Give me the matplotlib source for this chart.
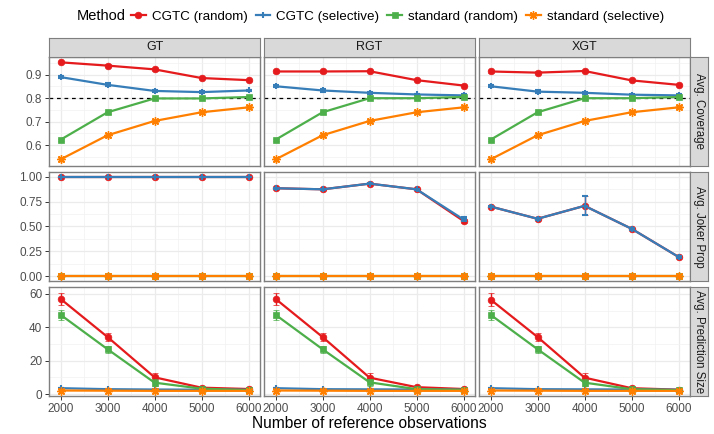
import numpy as np
import matplotlib.pyplot as plt
from matplotlib.lines import Line2D
from matplotlib.ticker import MultipleLocator

plt.rcParams['font.family'] = ['Liberation Sans', 'DejaVu Sans']

# data
n_ref = [2000, 3000, 4000, 5000, 6000]
methods = ['CGTC (random)', 'CGTC (selective)', 'standard (random)', 'standard (selective)']
designs = ['GT', 'RGT', 'XGT']
metrics = ['Avg. Coverage', 'Avg. Joker Prop', 'Avg. Prediction Size']

cov_gt = [[0.953, 0.939, 0.923, 0.886, 0.877],
          [0.890, 0.857, 0.831, 0.826, 0.833],
          [0.623, 0.740, 0.799, 0.799, 0.805],
          [0.539, 0.642, 0.703, 0.740, 0.761]]
cov_rgt = [[0.914, 0.914, 0.915, 0.877, 0.854],
           [0.851, 0.833, 0.823, 0.816, 0.812],
           [0.623, 0.740, 0.800, 0.800, 0.805],
           [0.539, 0.642, 0.703, 0.740, 0.761]]
cov_xgt = [[0.914, 0.909, 0.916, 0.876, 0.857],
           [0.851, 0.828, 0.823, 0.815, 0.812],
           [0.623, 0.740, 0.800, 0.800, 0.805],
           [0.539, 0.642, 0.703, 0.740, 0.761]]
cov_se = [0.005, 0.006, 0.005, 0.004, 0.004]

joker_gt = [[1, 1, 1, 1, 1], [1, 1, 1, 1, 1], [0, 0, 0, 0, 0], [0, 0, 0, 0, 0]]
joker_rgt = [[0.884, 0.873, 0.930, 0.873, 0.555],
             [0.884, 0.873, 0.930, 0.873, 0.570],
             [0, 0, 0, 0, 0], [0, 0, 0, 0, 0]]
joker_xgt = [[0.700, 0.577, 0.707, 0.477, 0.194],
             [0.700, 0.577, 0.707, 0.477, 0.194],
             [0, 0, 0, 0, 0], [0, 0, 0, 0, 0]]
joker_se_gt = [0, 0, 0, 0, 0]
joker_se_rgt = [0.006, 0.006, 0.008, 0.006, 0.02]
joker_se_xgt = [0.008, 0.008, 0.095, 0.008, 0.012]

size_gt = [[57.0, 34.2, 10.1, 3.9, 3.1],
           [3.6, 3.0, 2.8, 2.7, 2.7],
           [47.5, 26.9, 6.9, 3.3, 2.4],
           [2.2, 2.1, 2.0, 2.0, 2.0]]
size_rgt = [[57.0, 34.2, 9.9, 4.2, 3.1],
            [3.6, 3.0, 2.9, 2.8, 2.7],
            [47.5, 26.9, 7.1, 3.0, 2.6],
            [2.2, 2.1, 2.0, 2.0, 2.0]]
size_xgt = [[56.6, 34.2, 9.9, 3.6, 2.7],
            [3.6, 3.0, 2.9, 2.8, 2.7],
            [47.5, 26.9, 6.9, 3.0, 2.4],
            [2.2, 2.1, 2.0, 2.0, 2.0]]
size_se = [[3.8, 2.2, 2.8, 0.6, 0.4],
           [0.3, 0.3, 0.3, 0.3, 0.3],
           [3.0, 2.0, 2.0, 0.4, 0.3],
           [0.2, 0.2, 0.2, 0.2, 0.2]]

values = {
    (0, 0): cov_gt, (0, 1): cov_rgt, (0, 2): cov_xgt,
    (1, 0): joker_gt, (1, 1): joker_rgt, (1, 2): joker_xgt,
    (2, 0): size_gt, (2, 1): size_rgt, (2, 2): size_xgt,
}
errors = {
    (0, 0): [cov_se] * 4, (0, 1): [cov_se] * 4, (0, 2): [cov_se] * 4,
    (1, 0): [joker_se_gt] * 4, (1, 1): [joker_se_rgt, joker_se_rgt, [0] * 5, [0] * 5],
    (1, 2): [joker_se_xgt, joker_se_xgt, [0] * 5, [0] * 5],
    (2, 0): size_se, (2, 1): size_se, (2, 2): size_se,
}

colors = ['#E41A1C', '#377EB8', '#4DAF4A', '#FF7F00']
markers = ['o', '+', 's', (8, 2, 0)]
msizes = [4.8, 5, 4.3, 6]
mews = [0.5, 1.5, 0.5, 1.0]

ylims = [(0.51, 0.977), (-0.05, 1.05), (-1.2, 64.3)]
yticks = [[0.6, 0.7, 0.8, 0.9], [0, 0.25, 0.5, 0.75, 1.0], [0, 20, 40, 60]]
ytlabels = [['0.6', '0.7', '0.8', '0.9'], ['0.00', '0.25', '0.50', '0.75', '1.00'], ['0', '20', '40', '60']]
yminor = [0.05, 0.125, 10]

W, H = 714, 434
fig = plt.figure(figsize=(W / 100, H / 100), dpi=100)

col_left = [49.3, 264.3, 479.3]
col_w = 210.5
row_top = [56.7, 171.7, 286.7]
row_h = 109.5
border = '#7F7F7F'
strip_fill = '#D9D9D9'

for r in range(3):
    for c in range(3):
        ax = fig.add_axes([col_left[c] / W, 1 - (row_top[r] + row_h) / H, col_w / W, row_h / H])
        ax.set_xlim(1760, 6240)
        ax.set_ylim(*ylims[r])
        ax.set_xticks(n_ref)
        ax.xaxis.set_minor_locator(MultipleLocator(500))
        ax.set_yticks(yticks[r])
        ax.yaxis.set_minor_locator(MultipleLocator(yminor[r]))
        ax.grid(which='major', color='#EBEBEB', lw=0.9, zorder=0)
        ax.grid(which='minor', color='#F2F2F2', lw=0.5, zorder=0)
        ax.set_axisbelow(True)
        for s in ax.spines.values():
            s.set_color(border)
            s.set_linewidth(1.0)
        ax.tick_params(which='minor', length=0)
        ax.tick_params(which='major', color='#333333', length=3, width=0.7,
                       labelsize=8.5, labelcolor='#4D4D4D', pad=2)
        if c == 0:
            ax.set_yticklabels(ytlabels[r])
        else:
            ax.tick_params(axis='y', length=0, labelleft=False)
        if r == 2:
            ax.set_xticklabels([str(v) for v in n_ref])
        else:
            ax.tick_params(axis='x', length=0, labelbottom=False)

        if r == 0:
            ax.axhline(0.8, color='black', ls=(0, (3, 3)), lw=0.9, zorder=1)

        vals = values[(r, c)]
        errs = errors[(r, c)]
        for i in range(4):
            ax.errorbar(n_ref, vals[i], yerr=errs[i], color=colors[i], lw=1.6,
                        marker=markers[i], ms=msizes[i], mew=mews[i],
                        mec=colors[i], elinewidth=1.0, capsize=2.5, capthick=1.0,
                        zorder=2 + i, clip_on=False)

        # strips
        if r == 0:
            sax = fig.add_axes([col_left[c] / W, 1 - row_top[r] / H, col_w / W, 18.4 / H])
            sax.set_facecolor(strip_fill)
            sax.set_xticks([])
            sax.set_yticks([])
            for s in sax.spines.values():
                s.set_color(border)
            sax.text(0.5, 0.5, designs[c], ha='center', va='center', fontsize=9, color='#1A1A1A',
                     transform=sax.transAxes)
        if c == 2:
            sax = fig.add_axes([(col_left[c] + col_w) / W, 1 - (row_top[r] + row_h) / H, 18.7 / W, row_h / H])
            sax.set_facecolor(strip_fill)
            sax.set_xticks([])
            sax.set_yticks([])
            for s in sax.spines.values():
                s.set_color(border)
            sax.text(0.5, 0.5, metrics[r], ha='center', va='center', fontsize=8.3, color='#1A1A1A',
                     rotation=-90, transform=sax.transAxes)

fig.text((col_left[0] + col_left[2] + col_w) / 2 / W, 1 - 423 / H, 'Number of reference observations',
         ha='center', va='center', fontsize=11.2, color='black')

# legend
fig.text(77 / W, 1 - 16.5 / H, 'Method', ha='left', va='center', fontsize=10.5, color='black')
handles = [Line2D([0], [0], color=colors[i], lw=1.6, marker=markers[i], ms=msizes[i],
                  mew=mews[i], mec=colors[i]) for i in range(4)]
fig.legend(handles, methods, loc='center left', bbox_to_anchor=(131 / W, 1 - 16.5 / H),
           ncol=4, frameon=False, fontsize=9.6, handlelength=1.1, handletextpad=0.45,
           columnspacing=0.6, borderpad=0, borderaxespad=0)

fig.savefig('out.png', dpi=100)
